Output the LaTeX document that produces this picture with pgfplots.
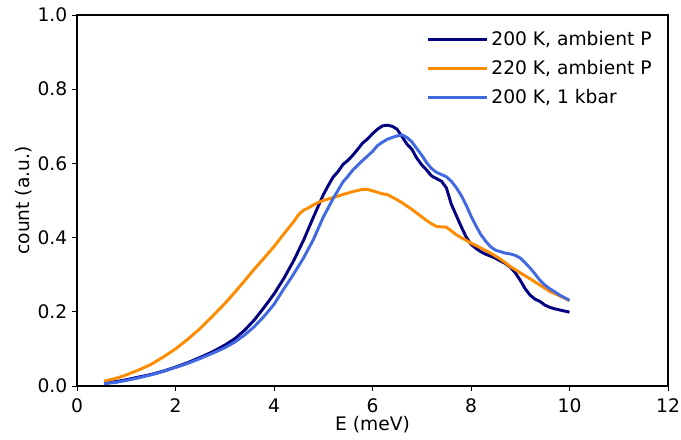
\documentclass[border=0pt]{standalone}
\usepackage{fontspec}
\setmainfont{DejaVu Sans}
\usepackage{pgfplots}
\pgfplotsset{compat=1.18}

\definecolor{navyc}{HTML}{000080}
\definecolor{orangec}{HTML}{FF8C00}
\definecolor{royalc}{HTML}{4169E1}

\pgfplotstableread{
E c
0.55 0.008
0.8 0.012
1.0 0.017
1.25 0.024
1.5 0.031
1.75 0.040
2.0 0.051
2.25 0.063
2.5 0.077
2.75 0.092
3.0 0.110
3.2 0.127
3.4 0.150
3.6 0.178
3.8 0.212
4.0 0.248
4.2 0.290
4.4 0.338
4.6 0.393
4.8 0.455
5.0 0.515
5.1 0.540
5.2 0.563
5.3 0.578
5.4 0.597
5.5 0.608
5.6 0.622
5.7 0.638
5.8 0.655
5.9 0.666
6.0 0.680
6.1 0.692
6.2 0.701
6.3 0.703
6.4 0.700
6.5 0.692
6.6 0.672
6.7 0.652
6.8 0.638
6.9 0.614
7.0 0.596
7.1 0.582
7.2 0.566
7.3 0.559
7.4 0.552
7.5 0.534
7.6 0.490
7.7 0.460
7.8 0.430
7.9 0.402
8.0 0.382
8.1 0.371
8.2 0.362
8.3 0.355
8.4 0.350
8.5 0.344
8.6 0.337
8.7 0.330
8.8 0.320
8.9 0.305
9.0 0.285
9.1 0.262
9.2 0.245
9.3 0.234
9.4 0.228
9.5 0.218
9.6 0.212
9.7 0.208
9.8 0.205
9.9 0.202
10.0 0.199
}\tabambient

\pgfplotstableread{
E c
0.55 0.013
0.8 0.021
1.0 0.030
1.25 0.043
1.5 0.058
1.75 0.078
2.0 0.100
2.25 0.126
2.5 0.155
2.75 0.188
3.0 0.222
3.2 0.252
3.4 0.283
3.6 0.315
3.8 0.345
4.0 0.376
4.2 0.410
4.4 0.443
4.5 0.462
4.6 0.474
4.7 0.480
4.8 0.488
4.9 0.495
5.0 0.500
5.2 0.508
5.4 0.516
5.5 0.520
5.6 0.524
5.7 0.527
5.8 0.530
5.9 0.530
6.0 0.526
6.1 0.522
6.2 0.518
6.3 0.516
6.4 0.509
6.5 0.502
6.6 0.494
6.7 0.485
6.8 0.476
6.9 0.466
7.0 0.456
7.1 0.446
7.2 0.437
7.3 0.430
7.4 0.429
7.5 0.428
7.6 0.418
7.7 0.408
7.8 0.400
7.9 0.393
8.0 0.385
8.2 0.372
8.4 0.358
8.6 0.342
8.8 0.322
9.0 0.305
9.2 0.289
9.4 0.272
9.6 0.255
9.8 0.243
10.0 0.230
}\tabwarm

\pgfplotstableread{
E c
0.55 0.006
0.8 0.010
1.0 0.015
1.25 0.022
1.5 0.030
1.75 0.039
2.0 0.050
2.25 0.061
2.5 0.074
2.75 0.088
3.0 0.103
3.2 0.118
3.4 0.137
3.6 0.160
3.8 0.188
4.0 0.220
4.2 0.262
4.4 0.302
4.6 0.345
4.8 0.395
5.0 0.455
5.2 0.505
5.4 0.550
5.5 0.565
5.6 0.582
5.7 0.595
5.8 0.608
5.9 0.620
6.0 0.632
6.1 0.648
6.2 0.657
6.3 0.665
6.4 0.670
6.5 0.674
6.6 0.677
6.7 0.670
6.8 0.658
6.9 0.640
7.0 0.622
7.1 0.602
7.2 0.586
7.3 0.576
7.4 0.570
7.5 0.564
7.6 0.552
7.7 0.535
7.8 0.514
7.9 0.488
8.0 0.458
8.1 0.432
8.2 0.408
8.3 0.390
8.4 0.375
8.5 0.366
8.6 0.362
8.7 0.358
8.8 0.356
8.9 0.352
9.0 0.345
9.1 0.332
9.2 0.318
9.3 0.302
9.4 0.285
9.5 0.272
9.6 0.262
9.7 0.254
9.8 0.245
9.9 0.238
10.0 0.231
}\tabpressure

\begin{document}
\begin{tikzpicture}
\path[use as bounding box] (-57.75pt,-39.75pt) rectangle (453pt,289.5pt);
\begin{axis}[
    at={(0,0)}, anchor=south west,
    scale only axis,
    width=443.25pt, height=278.25pt,
    xmin=0, xmax=12, ymin=0, ymax=1,
    xtick={0,2,...,12},
    ytick={0,0.2,...,1.0},
    yticklabel style={/pgf/number format/.cd, fixed, fixed zerofill, precision=1},
    /pgf/number format/assume math mode=true,
    tick align=outside,
    xtick pos=bottom, ytick pos=left,
    major tick length=3.8pt,
    every tick/.style={black, line width=0.7pt},
    axis line style={line width=0.8pt},
    tick label style={font=\fontsize{14}{16}\selectfont},
    xticklabel style={yshift=-2pt},
    label style={font=\fontsize{14}{16}\selectfont},
    xlabel={E (meV)}, ylabel={count (a.u.)},
    xlabel style={yshift=4.25pt},
    ylabel style={yshift=-2.5pt},
    legend style={draw=none, fill=none, at={(0.984,0.97)}, anchor=north east,
        font=\fontsize{14}{16}\selectfont, row sep=5.6pt},
    legend cell align=left,
    legend image code/.code={\draw[#1, line width=2.2pt] (0pt,0pt) -- (31pt,0pt);
        \path (0pt,0pt) -- (44.5pt,0pt);},
    every axis plot/.append style={line width=2.2pt, line join=round},
]
\addplot[navyc, no markers] table[x=E, y=c] {\tabambient};
\addplot[orangec, no markers] table[x=E, y=c] {\tabwarm};
\addplot[royalc, no markers] table[x=E, y=c] {\tabpressure};
\legend{{200 K, ambient P}, {220 K, ambient P}, {200 K, 1 kbar}}
\end{axis}
\end{tikzpicture}
\end{document}
